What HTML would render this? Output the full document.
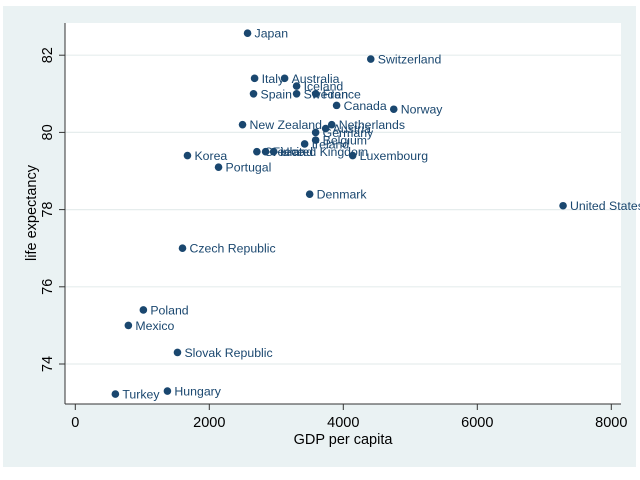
<!DOCTYPE html>
<html><head><meta charset="utf-8"><style>
html,body{margin:0;padding:0;background:#fff;width:640px;height:480px;overflow:hidden}
svg{display:block;font-family:"Liberation Sans",Arial,sans-serif}
</style></head><body>
<svg id="chart" width="640" height="480">
<rect x="3" y="6" width="633" height="461" fill="#eaf2f3"/>
<rect x="65" y="23" width="556" height="381" fill="#fff"/>
<g id="grid"></g><g id="axes"></g><g id="marks"></g>
<text x="343" y="444" text-anchor="middle" font-size="14.5" fill="#000">GDP per capita</text>
<text transform="translate(36,213) rotate(-90)" text-anchor="middle" font-size="14.5" fill="#000">life expectancy</text>
</svg>
<script>
const countries=["Japan","Switzerland","Italy","Australia","Iceland","Spain","Sweden","France","Canada","Norway","New Zealand","Netherlands","Austria","Germany","Belgium","Ireland","Greece","Finland","United Kingdom","Korea","Luxembourg","Portugal","Denmark","United States","Czech Republic","Poland","Mexico","Slovak Republic","Turkey","Hungary"];
const gdp=[2571,4410,2676,3124,3303,2660,3303,3587,3900,4753,2496,3827,3737,3587,3587,3423,2710,2840,2960,1674,4140,2138,3498,7280,1600,1016,792,1525,598,1375];
const life=[82.57,81.9,81.4,81.4,81.2,81.0,81.0,81.0,80.7,80.6,80.2,80.2,80.1,80.0,79.8,79.7,79.5,79.5,79.5,79.4,79.4,79.1,78.4,78.1,77.0,75.4,75.0,74.3,73.22,73.3];
const xTicks=[0,2000,4000,6000,8000];
const yTicks=[74,76,78,80,82];
const NS="http://www.w3.org/2000/svg";
const xs=v=>75.3+v*(209.3-75.3)/2000;
const ys=v=>364-(v-74)*38.6;
function mk(t,a,p){const e=document.createElementNS(NS,t);for(const k in a)e.setAttribute(k,a[k]);p.appendChild(e);return e;}
const grid=document.getElementById('grid'),axes=document.getElementById('axes'),marks=document.getElementById('marks');
yTicks.forEach(v=>{
 const g=mk('line',{x1:65,x2:621,y1:ys(v),y2:ys(v),stroke:'#e6eded','stroke-width':1.2},grid);
 
 
 const t=mk('line',{x1:59,x2:65,y1:ys(v),y2:ys(v),stroke:'#333'},axes);
 
 
 const l=mk('text',{transform:`translate(52,${ys(v)}) rotate(-90)`,'text-anchor':'middle','font-size':14.5,fill:'#000'},axes);
 l.textContent=v;
 
 
});
xTicks.forEach(v=>{
 const t=mk('line',{x1:xs(v),x2:xs(v),y1:404,y2:410,stroke:'#333'},axes);
 
 
 const l=mk('text',{x:xs(v),y:427,'text-anchor':'middle','font-size':14.5,fill:'#000'},axes);
 l.textContent=v;
 
 
});
const ax1=mk('line',{x1:65,x2:65,y1:23,y2:404,stroke:'#333'},axes);


const ax2=mk('line',{x1:65,x2:621,y1:404,y2:404,stroke:'#333'},axes);


countries.forEach((c,i)=>{
 const cx=xs(gdp[i]),cy=ys(life[i]);
 const d=mk('circle',{cx:cx,cy:cy,r:3.8,fill:'#1a476f'},marks);
 
 
 const l=mk('text',{x:cx+7,y:cy+4.5,'font-size':12.3,fill:'#1a476f'},marks);
 l.textContent=c;
 
 
});
</script>
</body></html>
